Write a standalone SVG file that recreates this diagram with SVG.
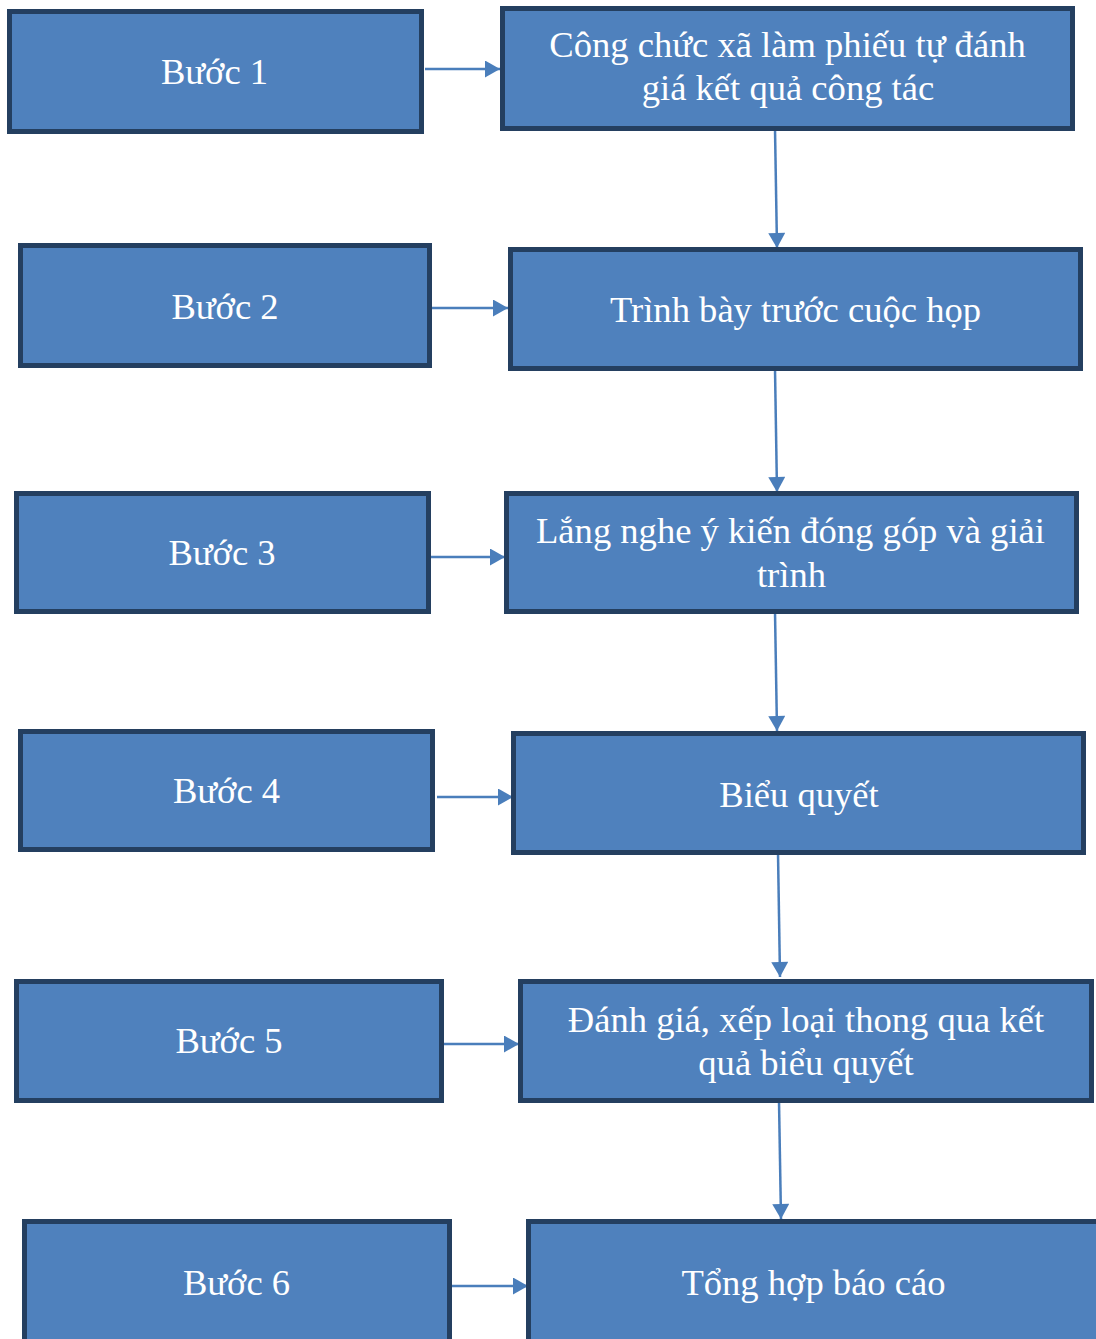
<svg xmlns="http://www.w3.org/2000/svg" width="1096" height="1339" viewBox="0 0 1096 1339">
<style>
.box{fill:#4F81BD;stroke:#243F60;stroke-width:5}
.t{font-family:"Liberation Serif","Times New Roman",serif;font-size:36.6px;fill:#FFFFFF;text-anchor:middle}
.c{stroke:#4A7EBB;stroke-width:2.5;fill:none}
</style>
<defs>
<marker id="ah" markerUnits="userSpaceOnUse" markerWidth="16" markerHeight="17" viewBox="0 0 15 17" refX="15" refY="8.5" orient="auto">
<path d="M0,0 L15,8.5 L0,17 Z" fill="#4A7EBB"/>
</marker>
</defs>
<rect width="1096" height="1339" fill="#FFFFFF"/>
<g id="connectors">
<line class="c" x1="425" y1="69" x2="500" y2="69" marker-end="url(#ah)"/>
<line class="c" x1="432" y1="308" x2="508" y2="308" marker-end="url(#ah)"/>
<line class="c" x1="430" y1="557" x2="505" y2="557" marker-end="url(#ah)"/>
<line class="c" x1="437" y1="797" x2="513" y2="797" marker-end="url(#ah)"/>
<line class="c" x1="444" y1="1044" x2="519" y2="1044" marker-end="url(#ah)"/>
<line class="c" x1="452" y1="1286" x2="528" y2="1286" marker-end="url(#ah)"/>
<line class="c" x1="775" y1="129" x2="777" y2="248" marker-end="url(#ah)"/>
<line class="c" x1="775" y1="369" x2="777" y2="492" marker-end="url(#ah)"/>
<line class="c" x1="775" y1="612" x2="777" y2="731" marker-end="url(#ah)"/>
<line class="c" x1="778" y1="853" x2="780" y2="977" marker-end="url(#ah)"/>
<line class="c" x1="779" y1="1101" x2="781" y2="1219" marker-end="url(#ah)"/>
</g>
<g id="buoc1"><rect class="box" x="9.5" y="11.5" width="412" height="120"/><text class="t" x="214.5" y="84">Bước 1</text></g>
<g id="step1"><rect class="box" x="502.5" y="8.5" width="570" height="120"/><text class="t" x="787.5" y="57">Công chức xã làm phiếu tự đánh</text><text class="t" x="788" y="100">giá kết quả công tác</text></g>
<g id="buoc2"><rect class="box" x="20.5" y="245.5" width="409" height="120"/><text class="t" x="225" y="319">Bước 2</text></g>
<g id="step2"><rect class="box" x="510.5" y="249.5" width="570" height="119"/><text class="t" x="795.5" y="322">Trình bày trước cuộc họp</text></g>
<g id="buoc3"><rect class="box" x="16.5" y="493.5" width="412" height="118"/><text class="t" x="222" y="565">Bước 3</text></g>
<g id="step3"><rect class="box" x="506.5" y="493.5" width="570" height="118"/><text class="t" x="790.5" y="543">Lắng nghe ý kiến đóng góp và giải</text><text class="t" x="791.5" y="587">trình</text></g>
<g id="buoc4"><rect class="box" x="20.5" y="731.5" width="412" height="118"/><text class="t" x="226.5" y="803">Bước 4</text></g>
<g id="step4"><rect class="box" x="513.5" y="733.5" width="570" height="119"/><text class="t" x="799" y="807">Biểu quyết</text></g>
<g id="buoc5"><rect class="box" x="16.5" y="981.5" width="425" height="119"/><text class="t" x="229" y="1053">Bước 5</text></g>
<g id="step5"><rect class="box" x="520.5" y="981.5" width="571" height="119"/><text class="t" x="806" y="1032">Đánh giá, xếp loại thong qua kết</text><text class="t" x="806" y="1075">quả biểu quyết</text></g>
<g id="buoc6"><rect class="box" x="24.5" y="1221.5" width="425" height="130"/><text class="t" x="236.5" y="1295">Bước 6</text></g>
<g id="step6"><rect class="box" x="528.5" y="1221.5" width="580" height="130"/><text class="t" x="813.5" y="1295">Tổng hợp báo cáo</text></g>
</svg>
